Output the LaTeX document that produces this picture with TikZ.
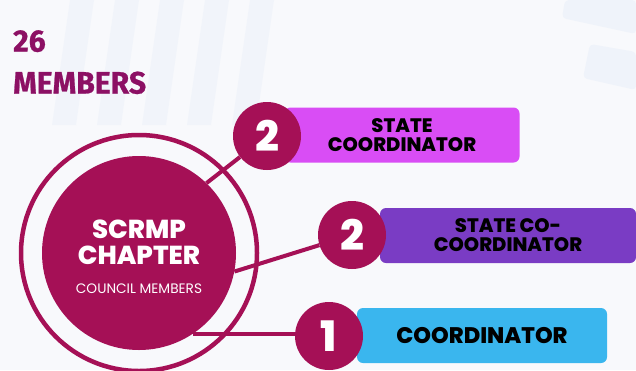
\documentclass[tikz,border=0pt]{standalone}
\usepackage{fontspec}
\setmainfont{Poppins}[BoldFont={Poppins ExtraBold}]
\newfontfamily\headfont{Fira Sans}[BoldFeatures={FakeBold=0.8},FakeStretch=0.97]
\definecolor{chapter}{RGB}{165,16,86}
\definecolor{head}{RGB}{140,16,100}
\definecolor{statebox}{RGB}{217,77,245}
\definecolor{cobox}{RGB}{122,60,196}
\definecolor{coordbox}{RGB}{58,182,238}
\definecolor{paper}{RGB}{248,249,252}
\definecolor{bar}{RGB}{239,243,250}

\tikzset{
  badge/.style={circle,fill=chapter,minimum size=68pt,inner sep=0pt,text=white,
    font=\bfseries\fontsize{42}{42}\selectfont},
  rolebox/.style={rounded corners=6pt,minimum height=55pt,inner sep=0pt,align=center,
    font=\bfseries\fontsize{19.5}{19}\selectfont},
  link/.style={chapter,line width=4pt},
}

\begin{document}
\begin{tikzpicture}[x=1pt,y=-1pt]
    \useasboundingbox (0,0) rectangle (636,370);
    \fill[paper] (0,0) rectangle (636,370);
    % faint bars in the back
    \foreach \x in {70,115,160,205,250}{
      \fill[bar,opacity=0.7] (\x,0) -- (\x+24,0) -- (\x+6,125) -- (\x-18,125) -- cycle;
    }
    \fill[bar,rounded corners=4pt] (565,0) -- (636,0) -- (636,34) -- (562,18) -- cycle;
    \fill[bar,rounded corners=4pt] (590,44) -- (636,52) -- (636,90) -- (583,78) -- cycle;

    % title
    \node[anchor=north west,inner sep=0pt,align=left,text=head,
      font=\headfont\bfseries\fontsize{31}{42}\selectfont] (members) at (13,30) {26\\MEMBERS};

    % the chapter
    \node[circle,fill=chapter,minimum size=194pt,inner sep=0pt] (chapter) at (139,253) {};
    \draw[chapter,line width=4.5pt] (chapter.center) circle[radius=118pt];
    \node[text=white,align=center,inner sep=0pt,font=\bfseries\fontsize{26}{26}\selectfont]
      (chaptitle) at (139,257)
      {SCRMP\\CHAPTER\\[3pt]{\mdseries\fontsize{13.7}{14}\selectfont COUNCIL MEMBERS}};

    % roles
    \node[rolebox,fill=statebox,minimum width=235pt] (stA) at (402,135) {STATE\\COORDINATOR};
    \node[rolebox,fill=cobox,minimum width=256pt] (stB) at (508,235.5) {STATE CO-\\COORDINATOR};
    \node[rolebox,fill=coordbox,minimum width=250pt,font=\bfseries\fontsize{22.5}{22}\selectfont]
      (stC) at (482,335.5) {COORDINATOR};

    \node[badge] (bA) at (267,136) {2};
    \node[badge] (bB) at (352,235) {2};
    \node[badge] (bC) at (329,336) {1};

    \draw[link] (chapter.46) -- (bA);
    \draw[link] (chapter.-11) -- (bB);
    \draw[link] (chapter.-56) -- (chapter.-56 -| bC.west);
  \end{tikzpicture}
\end{document}
